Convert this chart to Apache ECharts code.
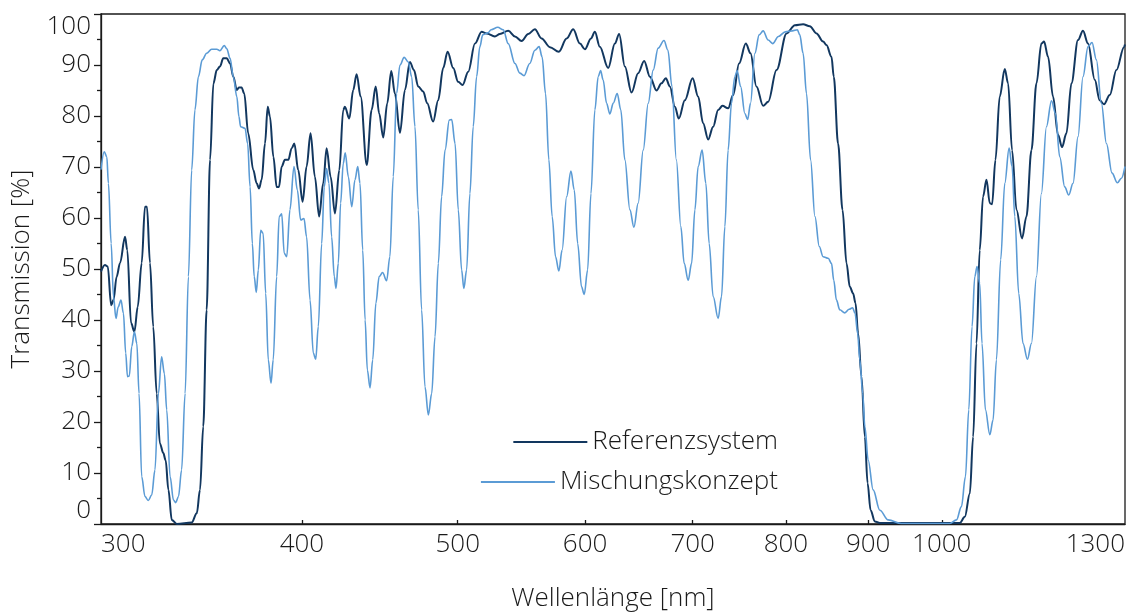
<!DOCTYPE html>
<html><head><meta charset="utf-8">
<script src="https://cdn.jsdelivr.net/npm/echarts@6/dist/echarts.min.js"></script>
<style>html,body{margin:0;padding:0;background:#fff}#c{width:1132px;height:615px}</style>
</head><body><div id="c"></div>
<script>
const seriesNames = ['Referenzsystem', 'Mischungskonzept'];
const xLabelValues = [300, 400, 500, 600, 700, 800, 900, 1000, 1300];
const xTickValues = [400, 500, 600, 700, 800, 900, 1000];

const refNm = [300,301.7,302.9,304.4,305.4,306.8,308.3,310.5,311.5,313.2,
314.7,316.2,318.0,319.5,320.4,321.8,323.3,324.9,326.4,328.0,
329.1,330.4,332.0,334.4,341.6,344.1,345.7,347.3,349.0,350.7,
352.4,354.1,355.7,357.4,359.2,360.9,362.6,364.4,365.5,366.9,
368.3,370.4,373.1,374.9,376.2,377.6,379.4,380.9,382.1,384.0,
385.8,387.1,388.6,390.4,392.3,394.2,395.7,397.9,400.4,402.7,
405.0,407.5,410.0,412.4,414.4,416.8,419.4,422.0,424.4,425.4,
428.1,430.5,432.6,435.1,438.9,442.0,444.6,446.8,449.4,452.0,
454.6,457.0,460.3,463.6,466.9,469.6,472.5,475.9,478.6,482.7,
486.2,489.7,492.8,496.8,500.3,503.5,507.6,512.5,517.4,521.1,
527.3,531.1,537.5,542.7,547.9,553.1,558.4,563.8,570.6,577.9,
584.4,589.9,595.6,599.9,605.1,608.5,612.8,620.2,626.2,630.0,
635.2,641.3,647.4,653.0,658.4,664.7,669.4,673.6,677.5,682.4,
686.2,692.2,699.9,705.5,710.5,715.7,720.8,726.0,730.5,736.4,
741.7,748.1,755.3,760.4,766.9,774.3,779.9,789.3,800.7,810.3,
819.9,827.8,835.8,843.7,847.8,853.9,856.7,862.0,867.5,872.5,
876.6,880.8,883.8,887.1,891.4,895.7,899.2,903.1,908.6,915.1,
1026.0,1033.5,1041.0,1045.9,1051.0,1055.8,1060.9,1066.1,1071.2,1074.7,
1079.9,1086.5,1094.4,1099.6,1105.9,1112.9,1121.8,1128.9,1137.0,1145.2,
1153.3,1157.7,1164.4,1172.7,1181.1,1187.9,1195.4,1204.0,1215.4,1224.1,
1233.0,1244.9,1253.7,1261.5,1271.9,1284.1,1298.1,1300];
const refT = [49.5,50.8,50.5,42.9,43.9,48.5,51.2,56.3,53.7,39.4,
37.7,42.6,51.2,62.2,62.2,51.2,38.7,25.6,15.8,13.9,
12.5,6.7,0.8,0,0.3,2.1,6.7,19.1,42,71.4,
86.4,89,89.7,91.3,91.3,90.3,87.7,85.1,85.6,85.6,
84.4,76.6,69.4,66.8,65.8,67.5,74.6,81.8,79.9,72,
66.1,66.1,70.1,71.4,71.4,73.7,74.6,69.4,63.2,70.1,
76.6,68.1,60.3,66.8,73.7,68.1,60.9,69.4,81.2,81.8,
79.5,85.1,88.2,83.8,70.4,81.2,85.8,80.5,75.8,82.5,
88.8,84.4,76.7,85.1,90.6,89.0,85.8,84.8,82.5,78.9,
83.1,89.4,92.6,89.4,86.7,86.1,88.7,94.2,96.5,96.2,
95.6,96.1,96.7,95.6,94.7,96.1,97.0,95.2,93.5,92.6,
95.2,97.0,94.2,93.1,95.2,96.5,93.6,89.4,94.2,96.1,
89.7,84.6,88.4,90.8,87.7,85.0,86.4,87.4,85.8,81.8,
79.5,83.1,87.4,83.8,78.6,75.4,77.9,81.2,82.0,81.5,
84.1,90.3,94.2,92.3,85.8,82.0,82.8,89.0,96.2,97.8,
98.0,97.6,96.2,94.6,93.9,91.6,87.7,74.6,61.6,51.1,
46.5,45.2,43.3,37.4,28.9,17.1,8.0,2.7,0.5,0.2,
0.2,1.4,6.0,17.1,35.4,53.7,64.2,67.5,62.9,62.7,
71.4,83.8,89.2,86.4,73.3,61.6,56.0,60.3,73.3,86.4,
94.2,94.6,91.6,83.8,76.3,73.9,76.6,86.4,94.9,96.7,
94.2,87.1,83.1,82.3,84.1,89.0,93.5,94.0];

const mixNm = [300,301.4,302.5,303.2,304.4,305.4,306.5,307.5,308.7,309.8,
310.8,311.6,312.4,313.5,314.7,315.8,316.8,318.0,319.5,321.0,
322.6,324.1,325.7,327.2,328.5,329.6,331.2,332.8,333.9,335.2,
336.7,338.4,340.0,341.6,343.2,344.9,346.8,349.0,351.5,354.1,
355.7,357.9,359.2,360.9,362.6,364.4,365.5,366.4,368.7,370.1,
371.4,372.6,373.6,374.7,375.8,377.1,378.4,379.8,381.2,382.7,
383.9,385.8,387.2,388.6,390.0,391.4,393.2,395.5,397.4,399.3,
401.2,402.7,404.7,406.6,408.0,409.5,411.5,413.0,414.4,415.8,
417.4,419.0,420.0,421.4,422.8,424.4,425.6,427.5,429.6,431.6,
433.3,434.7,436.4,437.9,439.3,441.0,442.7,444.7,446.8,449.0,
451.6,453.7,455.9,458.1,460.3,463.1,465.8,468.1,470.3,472.5,
474.8,477.1,479.4,481.7,484.0,486.3,488.6,491.0,494.0,495.7,
498.1,500.4,502.8,504.4,506.4,508.8,511.2,513.7,516.1,518.2,
522.0,524.5,529.5,533.7,537.5,542.7,546.5,549.8,554.3,558.4,
561.8,564.2,567.0,569.7,572.4,575.2,577.9,580.6,584.4,588.0,
590.8,593.7,597.0,599.3,602.2,605.1,608.5,611.4,613.5,615.7,
618.8,621.7,624.7,628.3,631.5,635.2,639.8,643.5,647.4,652.1,
656.8,661.5,666.2,671.8,675.6,679.5,683.8,688.2,691.5,695.5,
698.9,702.2,705.5,709.5,713.3,716.7,720.8,726.0,729.5,733.0,
736.4,740.0,743.5,746.0,749.7,754.3,757.3,760.4,765.2,769.9,
774.3,779.9,784.9,791.4,799.2,807.3,813.2,816.0,819.9,823.9,
828.7,833.9,839.1,843.7,849.9,853.9,856.7,860.0,864.1,870.4,
875.8,880.1,883.2,886.5,889.2,893.0,895.7,900.0,906.4,915.1,
926.2,943.9,1011.5,1021.3,1028.5,1034.5,1039.4,1044.3,1048.4,1051.8,
1055.8,1059.3,1064.5,1071.2,1076.2,1081.4,1088.0,1094.4,1101.2,1105.9,
1110.2,1116.5,1123.4,1130.5,1137.0,1145.2,1153.3,1161.7,1170.1,1176.8,
1184.0,1192.5,1199.4,1206.8,1215.4,1224.1,1233.0,1240.0,1247.8,1256.8,
1265.9,1276.1,1285.9,1293.3,1300];
const mixT = [69.5,73.0,72.0,66.8,55.0,44.6,40.3,42.6,43.9,41.3,
33.5,28.9,29.0,34.8,37.7,35.4,25.6,9.3,5.4,4.6,
5.7,10.6,25.6,32.8,29.5,22.4,9.3,4.7,4.2,5.4,
10.6,25.6,48.5,69.4,81.2,87.7,91.0,92.3,93.1,93.1,
92.8,93.8,93.2,91.3,87.7,83.8,79.9,77.9,77.6,74.6,
66.1,55.0,48.5,45.4,49.8,57.6,57.0,45.2,32.2,27.6,
32.2,48.5,60.3,60.8,53.1,52.4,61.6,70.1,65.5,59.6,
59.9,56.3,43.9,33.5,32.3,38.7,55.0,66.1,69.7,66.8,
56.3,48.5,46.2,51.1,62.9,70.7,72.8,68.1,62.2,67.5,
70.1,66.8,53.7,40,30.2,26.7,32.2,43.3,48.5,49.3,
47.7,52.4,68.1,84.4,90,91.5,90.6,87.7,77.9,61.6,
42,26.9,21.4,25.6,36.7,51.1,64.2,73.3,79.2,79.3,
74.6,61.6,49.8,46.2,49.8,64.8,77.9,87.7,93.6,95.9,
96.3,96.9,97.4,96.9,94.2,90.3,88.4,87.9,90.3,92.9,
93.6,91.6,84.4,71.4,60.3,52.4,49.6,53.7,64.2,69.2,
65.5,55.0,46.5,45.0,49.8,64.8,81.2,87.7,88.9,87.1,
82.5,80.4,82.5,84.4,81.2,71.4,61.6,58.2,62.9,73.3,
82.5,89.0,93.3,94.8,92.9,85.8,71.4,58.3,51.1,47.8,
51.1,61.6,70.1,73.3,66.8,55.0,44.6,40.3,44.6,58.3,
73.3,82.5,87.7,88.9,85.8,80.5,79.3,82.5,92.3,95.9,
96.7,94.9,94.2,95.6,96.5,96.7,96.9,95.9,92.3,84.4,
71.4,60.3,54.4,52.4,52.1,51.1,47.8,43.9,42.0,41.4,
42.1,42.4,41.3,37.4,32.2,25.6,19.1,12.5,6.7,2.7,
0.8,0.1,0.1,0.8,3.4,9.3,22.4,38.7,48.5,50.5,
47.2,35.4,22.4,17.5,20.4,32.2,51.8,66.8,73.7,70.1,
60.3,45.2,35.4,32.3,35.4,48.5,64.8,77.9,83.0,80.5,
72.0,66.1,64.5,66.8,75.9,87.7,93.6,94.4,91.0,82.5,
74.6,68.8,66.9,67.8,70.1];

const zip = (a, b) => a.map((v, i) => [v, b[i]]);
const FONT = '"Open Sans", "Noto Sans", sans-serif';
const INK = '#1a1a1a';
const FS = 26;
const DARK = '#12375f';
const LIGHT = '#5b9bd5';
const textStyle = {fontSize: FS, color: INK, fontFamily: FONT, fontWeight: 300};
const chart = echarts.init(document.getElementById('c'), null, {renderer: 'canvas'});
chart.setOption({
  animation: false,
  grid: {left: 101, right: 7, top: 14, bottom: 91, containLabel: false, outerBoundsMode: 'none',
    show: true, borderColor: INK, borderWidth: 1.3, backgroundColor: 'transparent'},
  xAxis: {
    type: 'log', logBase: 10, min: 300, max: 1300,
    name: 'Wellenlänge [nm]', nameLocation: 'middle', nameGap: 62,
    nameTextStyle: textStyle,
    axisLine: {lineStyle: {color: INK, width: 1.3}},
    axisTick: {show: true, inside: true, length: 4, customValues: xTickValues, lineStyle: {color: INK, width: 1.3}},
    minorTick: {show: false}, splitLine: {show: false}, minorSplitLine: {show: false},
    axisLabel: Object.assign({customValues: xLabelValues, margin: 8,
      alignMinLabel: 'left', alignMaxLabel: 'right', formatter: v => String(Math.round(v))}, textStyle)
  },
  yAxis: {
    type: 'value', min: 0, max: 100, interval: 10,
    name: 'Transmission [%]', nameLocation: 'middle', nameGap: 66,
    nameTextStyle: textStyle,
    axisLine: {show: true, lineStyle: {color: INK, width: 1.3}},
    axisTick: {show: true, inside: false, length: 7, lineStyle: {color: INK, width: 1.3}},
    minorTick: {show: true, splitNumber: 2, length: 4, lineStyle: {color: INK, width: 1.3}},
    splitLine: {show: false},
    axisLabel: Object.assign({margin: 10, verticalAlignMaxLabel: 'top', verticalAlignMinLabel: 'bottom'}, textStyle)
  },
  legend: [
    {data: [{name: seriesNames[0], icon: 'rect'}], right: 349, top: 424, itemWidth: 74, itemHeight: 2, itemGap: 0,
      itemStyle: {color: DARK}, textStyle: textStyle},
    {data: [{name: seriesNames[1], icon: 'rect'}], right: 349, top: 464, itemWidth: 74, itemHeight: 2, itemGap: 0,
      itemStyle: {color: LIGHT}, textStyle: textStyle}
  ],
  series: [
    {name: seriesNames[0], type: 'line', data: zip(refNm, refT), symbol: 'none', smooth: 0.35, smoothMonotone: 'x',
      lineStyle: {color: DARK, width: 2}, itemStyle: {color: DARK}},
    {name: seriesNames[1], type: 'line', data: zip(mixNm, mixT), symbol: 'none', smooth: 0.35, smoothMonotone: 'x',
      lineStyle: {color: LIGHT, width: 1.6}, itemStyle: {color: LIGHT}}
  ]
});
</script></body></html>
